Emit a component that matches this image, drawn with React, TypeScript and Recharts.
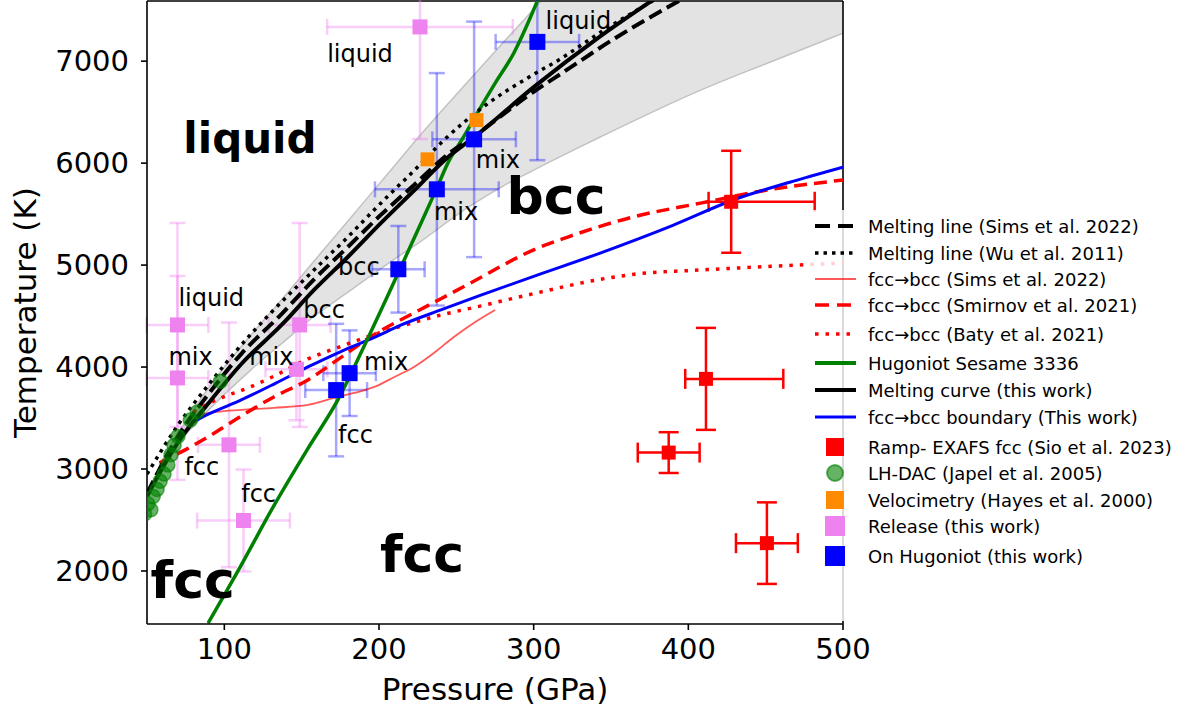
import React from "react";
import { Area, ComposedChart, ErrorBar, Label, Line, ReferenceLine, Scatter, XAxis, YAxis } from "recharts";

const FONT = "DejaVu Sans";
const VIOLET = "#ee82ee";
const BLUE = "#0000ff";
const RED = "#ff0000";
const GREEN = "#008000";
const ORANGE = "#ff8c00";

// --- curves (P in GPa, T in K) ---
const MELT_P = [50, 60, 70, 90, 111, 137, 158, 180, 201, 223, 244, 262, 300, 343, 380];
const MELT_T = [2730, 3010, 3260, 3650, 4030, 4413, 4756, 5082, 5409, 5736, 6050, 6260, 6745, 7243, 7630];

const SIMS_MELT_P = [50, 70, 90, 111, 137, 158, 180, 201, 223, 244, 262, 300, 320, 350, 395];
const SIMS_MELT_T = [2760, 3320, 3740, 4130, 4520, 4860, 5180, 5490, 5790, 6080, 6270, 6700, 6900, 7200, 7600];

const WU_MELT_P = [50, 70, 90, 110, 130, 158, 180, 201, 223, 242, 270, 300, 316, 345, 378];
const WU_MELT_T = [2950, 3430, 3830, 4200, 4530, 4952, 5278, 5605, 5932, 6226, 6580, 6870, 7010, 7300, 7600];

const SIMS_FB_P = [78.7, 85, 95, 111, 132, 154, 171, 184, 197, 210, 222.6, 235.5, 248.4, 262, 275];
const SIMS_FB_T = [3462, 3530, 3560, 3580, 3600, 3629, 3697, 3746, 3805, 3903, 4001, 4138, 4295, 4440, 4560];

const SMIRNOV_P = [58, 75, 90, 111, 132, 154, 175, 197, 220, 240, 266, 279, 300, 322, 364, 408, 451, 500];
const SMIRNOV_T = [3060, 3190, 3320, 3520, 3707, 3874, 4090, 4320, 4510, 4670, 4880, 4990, 5150, 5275, 5471, 5608, 5736, 5834];

const BATY_P = [80, 95, 116, 132, 154, 175, 197, 214, 240, 266, 300, 343, 365, 408, 450, 500];
const BATY_T = [3560, 3680, 3800, 3910, 4080, 4200, 4320, 4400, 4510, 4600, 4720, 4860, 4910, 4952, 4985, 5020];

const HUG_P = [89.5, 110.3, 131.6, 153.5, 173.4, 193.2, 213.9, 226.9, 237.4, 244.5, 254.2, 263.9, 275.5, 287.1, 294.8, 302.6];
const HUG_T = [1489, 2041, 2629, 3188, 3678, 4295, 4971, 5403, 5755, 6000, 6245, 6500, 6794, 7078, 7323, 7598];

const BOUND_P = [78.7, 90, 111, 133, 154, 175, 197, 214, 240, 265, 300, 343, 390, 429, 465, 500];
const BOUND_T = [3452, 3540, 3678, 3840, 4001, 4150, 4290, 4410, 4560, 4700, 4890, 5118, 5390, 5638, 5810, 5961];

// uncertainty band of the melting curve
const BAND_P = [58, 70, 80, 90, 100, 117, 137, 160, 182, 197, 214, 223, 257, 279, 300, 330, 343, 408, 451, 500];
const BAND_LO = [2980, 3250, 3420, 3580, 3730, 3970, 4230, 4520, 4756, 4920, 5100, 5190, 5560, 5765, 5932, 6160, 6256, 6716, 6980, 7274];
const BAND_HI = [3040, 3350, 3580, 3800, 4000, 4310, 4660, 5075, 5470, 5740, 6045, 6210, 6790, 7160, 7510, 8000, 8200, 9200, 9900, 10700];

// --- points ---
const RAMP_P = [427.7, 411.4, 387.3, 450.8];
const RAMP_T = [5621, 3884, 3161, 2273];
const RAMP_EX = [[14.6, 54], [13.4, 50], 20, 20];
const RAMP_EY = [500, 500, 200, 400];

const DAC_P = [48.5, 50.5, 52.5, 54, 56.5, 58.5, 61, 63.5, 65.5, 67.5, 70, 78, 82.5, 97.5];
const DAC_T = [2560, 2660, 2600, 2730, 2800, 2880, 2950, 3040, 3140, 3230, 3320, 3480, 3560, 3860];

const VELO_P = [231.4, 263];
const VELO_T = [6037, 6422];

const REL_P = [226.5, 69.7, 69.7, 148.7, 146.6, 103, 112.4];
const REL_T = [7336, 4413, 3893, 4413, 3978, 3237, 2495];
const REL_EX = [60, 20, 20, 20, 20, 20, 30];
const REL_EY = [1100, 1000, 1000, 1000, 500, 1200, 500];

const HUGPT_P = [302.4, 261.5, 237.4, 212.5, 181, 172.3];
const HUGPT_T = [7189, 6233, 5743, 4959, 3940, 3774];
const HUGPT_EX = [27, 27, 40, 17, 17, 20];
const HUGPT_EY = [1160, 1155, 1140, 425, 420, 650];

// --- text annotations (left edge / baseline in data coords) ---
const BIG_TEXT = ["bcc", "fcc", "fcc"];
const BIG_P = [282.5, 200.6, 52.3];
const BIG_T = [5500, 1992, 1737];

const LIQ_TEXT = ["liquid"];
const LIQ_P = [73.5];
const LIQ_T = [6098];

const NOTE_TEXT = ["liquid", "liquid", "mix", "mix", "bcc", "liquid", "bcc", "mix", "mix", "mix", "fcc", "fcc", "fcc"];
const NOTE_P = [166.5, 307.7, 262.6, 235.5, 173.5, 70.3, 151, 63.9, 116.1, 190.3, 173.5, 74.2, 110.9];
const NOTE_T = [6990, 7314, 5950, 5442, 4903, 4599, 4481, 4021, 4021, 3972, 3256, 2943, 2679];

const zip = (ps: number[], ts: number[]) => ps.map((P, i) => ({ P, T: ts[i] }));
const pts = (ps: number[], ts: number[], ex: any[], ey: any[]) =>
  ps.map((P, i) => ({ P, T: ts[i], ex: ex[i], ey: ey[i] }));
const texts = (tx: string[], ps: number[], ts: number[]) => tx.map((text, i) => ({ text, P: ps[i], T: ts[i] }));

const band = BAND_P.map((P, i) => ({ P, range: [BAND_LO[i], BAND_HI[i]] }));

function square(half: number, fill: string) {
  return (p: any) => <rect x={p.cx - half} y={p.cy - half} width={half * 2} height={half * 2} fill={fill} />;
}

function dacCircle(p: any) {
  return (
    <circle cx={p.cx} cy={p.cy} r={7} fill={GREEN} fillOpacity={0.6} stroke={GREEN} strokeOpacity={0.6} strokeWidth={1.5} />
  );
}

function textShape(size: number, weight: string) {
  return (p: any) => (
    <text x={p.cx} y={p.cy} fontSize={size} fontWeight={weight} fontFamily={FONT} fill="#000">
      {p.payload?.text}
    </text>
  );
}

const LEGEND = [
  { label: "Melting line (Sims et al. 2022)", y: 226, line: { stroke: "#000", w: 4, dash: "15 8" } },
  { label: "Melting line (Wu et al. 2011)", y: 253, line: { stroke: "#000", w: 3.5, dash: "3.5 5" } },
  { label: "fcc→bcc (Sims et al. 2022)", y: 279, line: { stroke: "rgba(255,0,0,0.65)", w: 2 } },
  { label: "fcc→bcc (Smirnov et al. 2021)", y: 305, line: { stroke: RED, w: 3.5, dash: "14 8" } },
  { label: "fcc→bcc (Baty et al. 2021)", y: 334, line: { stroke: RED, w: 3.5, dash: "3.5 7" } },
  { label: "Hugoniot Sesame 3336", y: 363, line: { stroke: GREEN, w: 4 } },
  { label: "Melting curve (this work)", y: 390, line: { stroke: "#000", w: 4 } },
  { label: "fcc→bcc boundary (This work)", y: 417, line: { stroke: BLUE, w: 3 } },
  { label: "Ramp- EXAFS fcc (Sio et al. 2023)", y: 447, sq: { fill: RED, s: 18 } },
  { label: "LH-DAC (Japel et al. 2005)", y: 473, circle: true },
  { label: "Velocimetry (Hayes et al. 2000)", y: 500, sq: { fill: ORANGE, s: 18 } },
  { label: "Release (this work)", y: 526, sq: { fill: VIOLET, s: 20 } },
  { label: "On Hugoniot (this work)", y: 556, sq: { fill: BLUE, s: 20 } },
];

function LegendBox() {
  const top = 210;
  return (
    <div
      style={{
        position: "absolute",
        left: 808,
        top,
        width: 379,
        height: 411,
        background: "rgba(255,255,255,0.82)",
        fontFamily: FONT,
        fontSize: 18,
        color: "#000",
      }}
    >
      {LEGEND.map((e) => (
        <div
          key={e.label}
          style={{ position: "absolute", left: 0, top: e.y - top - 13, height: 26, display: "flex", alignItems: "center" }}
        >
          <svg width={50} height={26} style={{ marginLeft: 5 }}>
            {e.line ? (
              <line x1={2} x2={43} y1={13} y2={13} stroke={e.line.stroke} strokeWidth={e.line.w} strokeDasharray={e.line.dash} />
            ) : null}
            {e.sq ? <rect x={22 - e.sq.s / 2} y={13 - e.sq.s / 2} width={e.sq.s} height={e.sq.s} fill={e.sq.fill} /> : null}
            {e.circle ? (
              <circle cx={22} cy={13} r={8} fill={GREEN} fillOpacity={0.6} stroke={GREEN} strokeOpacity={0.6} strokeWidth={2} />
            ) : null}
          </svg>
          <span style={{ marginLeft: 5, whiteSpace: "nowrap" }}>{e.label}</span>
        </div>
      ))}
    </div>
  );
}

const lineCommon = { dot: false, activeDot: false, isAnimationActive: false, type: "monotone" as const };

export default function App() {
  return (
    <div style={{ position: "absolute", left: 0, top: 0, width: 1187, height: 710, background: "#fff", fontFamily: FONT }}>
      <ComposedChart width={1187} height={710} margin={{ top: 1, right: 344, bottom: 0, left: 0 }}>
        <XAxis
          type="number"
          dataKey="P"
          domain={[50, 500]}
          allowDataOverflow
          ticks={[100, 200, 300, 400, 500]}
          height={86}
          tickSize={6}
          tickMargin={8}
          tick={{ fontSize: 29, fill: "#000", fontFamily: FONT }}
          axisLine={{ stroke: "#000", strokeWidth: 1.6 }}
          tickLine={{ stroke: "#000", strokeWidth: 1.6 }}
        >
          <Label
            content={(p: any) => (
              <text
                x={p.viewBox.x + p.viewBox.width / 2}
                y={p.viewBox.y + p.viewBox.height - 10}
                textAnchor="middle"
                fontSize={31}
                fontFamily={FONT}
                fill="#000"
              >
                Pressure (GPa)
              </text>
            )}
          />
        </XAxis>
        <YAxis
          type="number"
          domain={[1480, 7590]}
          allowDataOverflow
          ticks={[2000, 3000, 4000, 5000, 6000, 7000]}
          width={147}
          tickSize={6}
          tickMargin={12}
          tick={{ fontSize: 29, fill: "#000", fontFamily: FONT }}
          axisLine={{ stroke: "#000", strokeWidth: 1.6 }}
          tickLine={{ stroke: "#000", strokeWidth: 1.6 }}
        >
          <Label
            content={(p: any) => {
              const x = 36;
              const y = p.viewBox.y + p.viewBox.height / 2;
              return (
                <text x={x} y={y} transform={`rotate(-90 ${x} ${y})`} textAnchor="middle" fontSize={31} fontFamily={FONT} fill="#000">
                  Temperature (K)
                </text>
              );
            }}
          />
        </YAxis>

        <ReferenceLine y={7590} stroke="#000" strokeWidth={1.6} />
        <ReferenceLine x={500} stroke="#000" strokeWidth={1.6} />

        <Area
          data={band}
          dataKey="range"
          type="monotone"
          fill="#e3e3e3"
          fillOpacity={1}
          stroke="#c2c2c2"
          strokeWidth={1.5}
          dot={false}
          activeDot={false}
          isAnimationActive={false}
        />

        <Scatter data={pts(REL_P, REL_T, REL_EX, REL_EY)} dataKey="T" shape={square(7.5, VIOLET)} isAnimationActive={false}>
          <ErrorBar dataKey="ex" direction="x" width={8} stroke="rgba(238,130,238,0.4)" strokeWidth={2.5} />
          <ErrorBar dataKey="ey" direction="y" width={8} stroke="rgba(238,130,238,0.4)" strokeWidth={2.5} />
        </Scatter>
        <Scatter data={pts(HUGPT_P, HUGPT_T, HUGPT_EX, HUGPT_EY)} dataKey="T" shape={square(8, BLUE)} isAnimationActive={false}>
          <ErrorBar dataKey="ex" direction="x" width={8} stroke="rgba(0,0,255,0.35)" strokeWidth={2.5} />
          <ErrorBar dataKey="ey" direction="y" width={8} stroke="rgba(0,0,255,0.35)" strokeWidth={2.5} />
        </Scatter>
        <Scatter data={pts(RAMP_P, RAMP_T, RAMP_EX, RAMP_EY)} dataKey="T" shape={square(7, RED)} isAnimationActive={false}>
          <ErrorBar dataKey="ex" direction="x" width={10} stroke={RED} strokeWidth={2.5} />
          <ErrorBar dataKey="ey" direction="y" width={10} stroke={RED} strokeWidth={2.5} />
        </Scatter>
        <Scatter data={zip(DAC_P, DAC_T)} dataKey="T" shape={dacCircle} isAnimationActive={false} />

        <Line {...lineCommon} data={zip(SIMS_FB_P, SIMS_FB_T)} dataKey="T" stroke="rgba(255,0,0,0.65)" strokeWidth={1.8} />
        <Line {...lineCommon} data={zip(SMIRNOV_P, SMIRNOV_T)} dataKey="T" stroke={RED} strokeWidth={3.5} strokeDasharray="13 7" />
        <Line {...lineCommon} data={zip(BATY_P, BATY_T)} dataKey="T" stroke={RED} strokeWidth={3.5} strokeDasharray="3.5 7" />
        <Line {...lineCommon} data={zip(BOUND_P, BOUND_T)} dataKey="T" stroke={BLUE} strokeWidth={3} />
        <Line {...lineCommon} data={zip(HUG_P, HUG_T)} dataKey="T" stroke={GREEN} strokeWidth={3.5} />
        <Line {...lineCommon} data={zip(WU_MELT_P, WU_MELT_T)} dataKey="T" stroke="#000" strokeWidth={3.5} strokeDasharray="3.5 5" />
        <Line {...lineCommon} data={zip(SIMS_MELT_P, SIMS_MELT_T)} dataKey="T" stroke="#000" strokeWidth={4} strokeDasharray="14 6" />
        <Line {...lineCommon} data={zip(MELT_P, MELT_T)} dataKey="T" stroke="#000" strokeWidth={4} />

        <Scatter data={zip(VELO_P, VELO_T)} dataKey="T" shape={square(7, ORANGE)} isAnimationActive={false} />

        <Scatter data={texts(BIG_TEXT, BIG_P, BIG_T)} dataKey="T" shape={textShape(52, "bold")} isAnimationActive={false} />
        <Scatter data={texts(LIQ_TEXT, LIQ_P, LIQ_T)} dataKey="T" shape={textShape(42, "bold")} isAnimationActive={false} />
        <Scatter data={texts(NOTE_TEXT, NOTE_P, NOTE_T)} dataKey="T" shape={textShape(24, "normal")} isAnimationActive={false} />
      </ComposedChart>
      <LegendBox />
    </div>
  );
}
